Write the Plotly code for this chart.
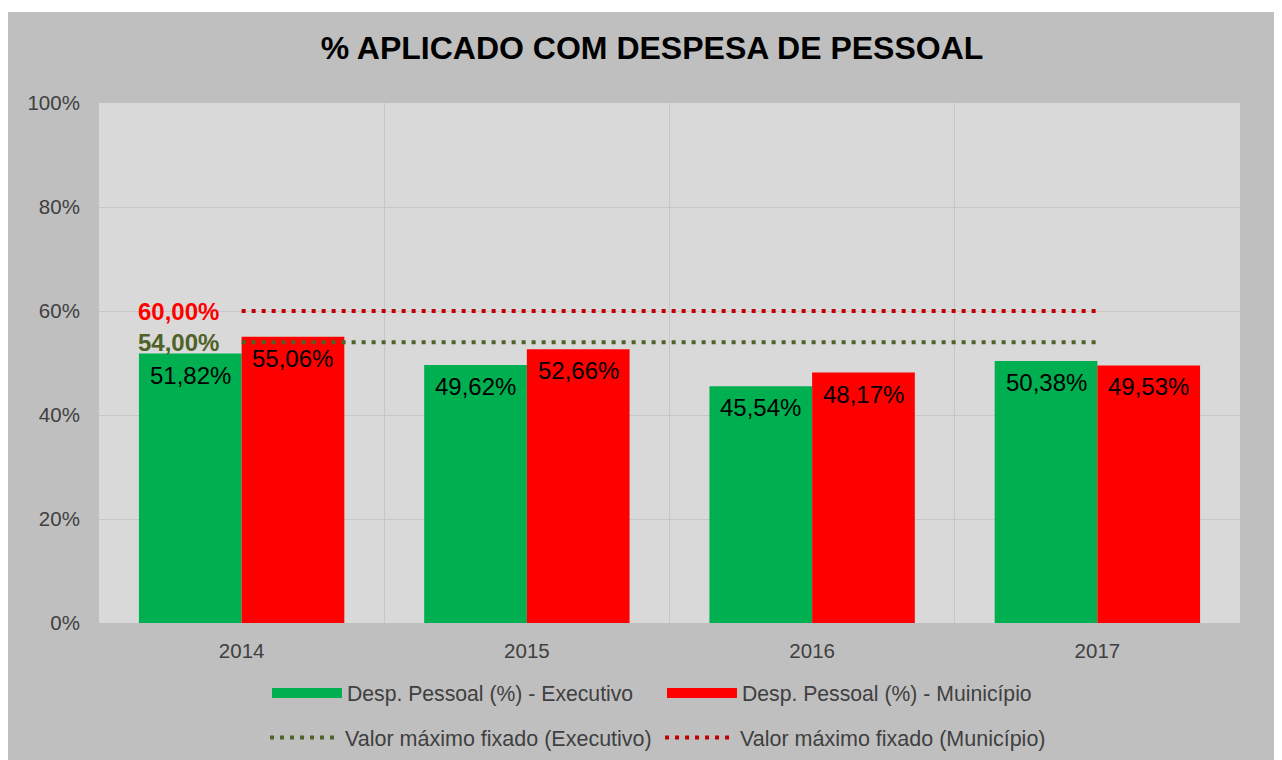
import plotly.graph_objects as go

years = ["2014", "2015", "2016", "2017"]
executivo = [51.82, 49.62, 45.54, 50.38]
municipio = [55.06, 52.66, 48.17, 49.53]
limite_executivo = 54.0
limite_municipio = 60.0
y_ticks = [0, 20, 40, 60, 80, 100]

GREEN = "#00b050"
RED = "#ff0000"
DARK_GREEN = "#4f6228"
DARK_RED = "#c00000"
FONT = "Liberation Sans, Arial, sans-serif"


def fmt(v):
    return f"{v:.2f}".replace(".", ",") + "%"


fig = go.Figure()

fig.add_trace(go.Bar(
    x=years, y=executivo, name="Desp. Pessoal (%) - Executivo",
    marker=dict(color=GREEN, line=dict(width=0)),
    showlegend=False,
))
fig.add_trace(go.Bar(
    x=years, y=municipio, name="Desp. Pessoal (%) - Muinicípio",
    marker=dict(color=RED, line=dict(width=0)),
    showlegend=False,
))

# legend proxies for the bars (wide flat swatches)
fig.add_trace(go.Scatter(x=[None], y=[None], mode="lines",
                         line=dict(color=GREEN, width=11),
                         name="Desp. Pessoal (%) - Executivo", legend="legend"))
fig.add_trace(go.Scatter(x=[None], y=[None], mode="lines",
                         line=dict(color=RED, width=11),
                         name="Desp. Pessoal (%) - Muinicípio", legend="legend"))

fig.add_trace(go.Scatter(
    x=years, y=[limite_executivo] * len(years), mode="lines",
    line=dict(color=DARK_GREEN, width=4, dash="4px,6px"),
    name="Valor máximo fixado (Executivo)", legend="legend2",
))
fig.add_trace(go.Scatter(
    x=years, y=[limite_municipio] * len(years), mode="lines",
    line=dict(color=DARK_RED, width=4, dash="4px,6px"),
    name="Valor máximo fixado (Município)", legend="legend2",
))

# value labels inside the top of each bar
BAR_HALF = 51.3
for i, v in enumerate(executivo):
    fig.add_annotation(x=i, y=v, xref="x", yref="y", text=fmt(v),
                       showarrow=False, xanchor="center", yanchor="top",
                       xshift=-BAR_HALF, yshift=-6,
                       font=dict(color="black", size=24, family=FONT))
for i, v in enumerate(municipio):
    fig.add_annotation(x=i, y=v, xref="x", yref="y", text=fmt(v),
                       showarrow=False, xanchor="center", yanchor="top",
                       xshift=BAR_HALF, yshift=-6,
                       font=dict(color="black", size=24, family=FONT))

# label the limit lines, anchored on the first category (index 0)
fig.add_annotation(x=0, y=limite_municipio, xref="x", yref="y",
                   text=fmt(limite_municipio), showarrow=False,
                   xanchor="right", yanchor="middle", xshift=-21,
                   font=dict(color=RED, size=24, family=FONT, weight="bold"))
fig.add_annotation(x=0, y=limite_executivo, xref="x", yref="y",
                   text=fmt(limite_executivo), showarrow=False,
                   xanchor="right", yanchor="middle", xshift=-21,
                   font=dict(color=DARK_GREEN, size=24, family=FONT, weight="bold"))

W, H = 1274, 752
L, R, T, B = 91, 42, 95, 137

# thin white strip at the very top (the reference frame starts a bit lower)
fig.add_shape(type="rect", xref="paper", yref="paper",
              x0=-L / 1141, x1=(W - L) / 1141, y0=1 + (T - 4) / 520, y1=1 + T / 520,
              fillcolor="white", line=dict(width=0), layer="below")

fig.update_layout(
    width=W, height=H,
    margin=dict(l=L, r=R, t=T, b=B, autoexpand=False),
    paper_bgcolor="#bfbfbf",
    plot_bgcolor="#d9d9d9",
    barmode="group", bargap=0.28, bargroupgap=0,
    font=dict(family=FONT, color="#404040", size=20),
    title=dict(text="% APLICADO COM DESPESA DE PESSOAL",
               x=0.5055, xanchor="center", y=1 - 40 / H, yanchor="middle",
               font=dict(size=32, color="black", family=FONT, weight="bold")),
    xaxis=dict(type="category", categoryorder="array", categoryarray=years,
               range=[-0.5, len(years) - 0.5], automargin=False,
               tickson="boundaries", showgrid=True, tickangle=0,
               gridcolor="#c6c6c6", gridwidth=1, ticks="",
               ticklabelstandoff=13,
               tickfont=dict(size=20.5, color="#404040"),
               showline=False, zeroline=False),
    yaxis=dict(range=[0, 100], tickmode="array", tickvals=y_ticks,
               ticktext=[f"{v}%" for v in y_ticks], automargin=False,
               showgrid=True, gridcolor="#c6c6c6", gridwidth=1,
               zeroline=False, showline=False, ticks="outside", ticklen=14,
               tickcolor="rgba(0,0,0,0)",
               tickfont=dict(size=20.5, color="#404040")),
    legend=dict(orientation="h", x=0.4934, xanchor="center",
                y=-0.135, yanchor="middle", bgcolor="rgba(0,0,0,0)",
                itemwidth=70, entrywidth=310, font=dict(size=21.2, color="#404040"),
                traceorder="normal"),
    legend2=dict(orientation="h", x=0.4917, xanchor="center",
                 y=-0.22, yanchor="middle", bgcolor="rgba(0,0,0,0)",
                 itemwidth=70, entrywidth=310, font=dict(size=21.5, color="#404040"),
                 traceorder="normal"),
)

fig.write_html("out.html")
